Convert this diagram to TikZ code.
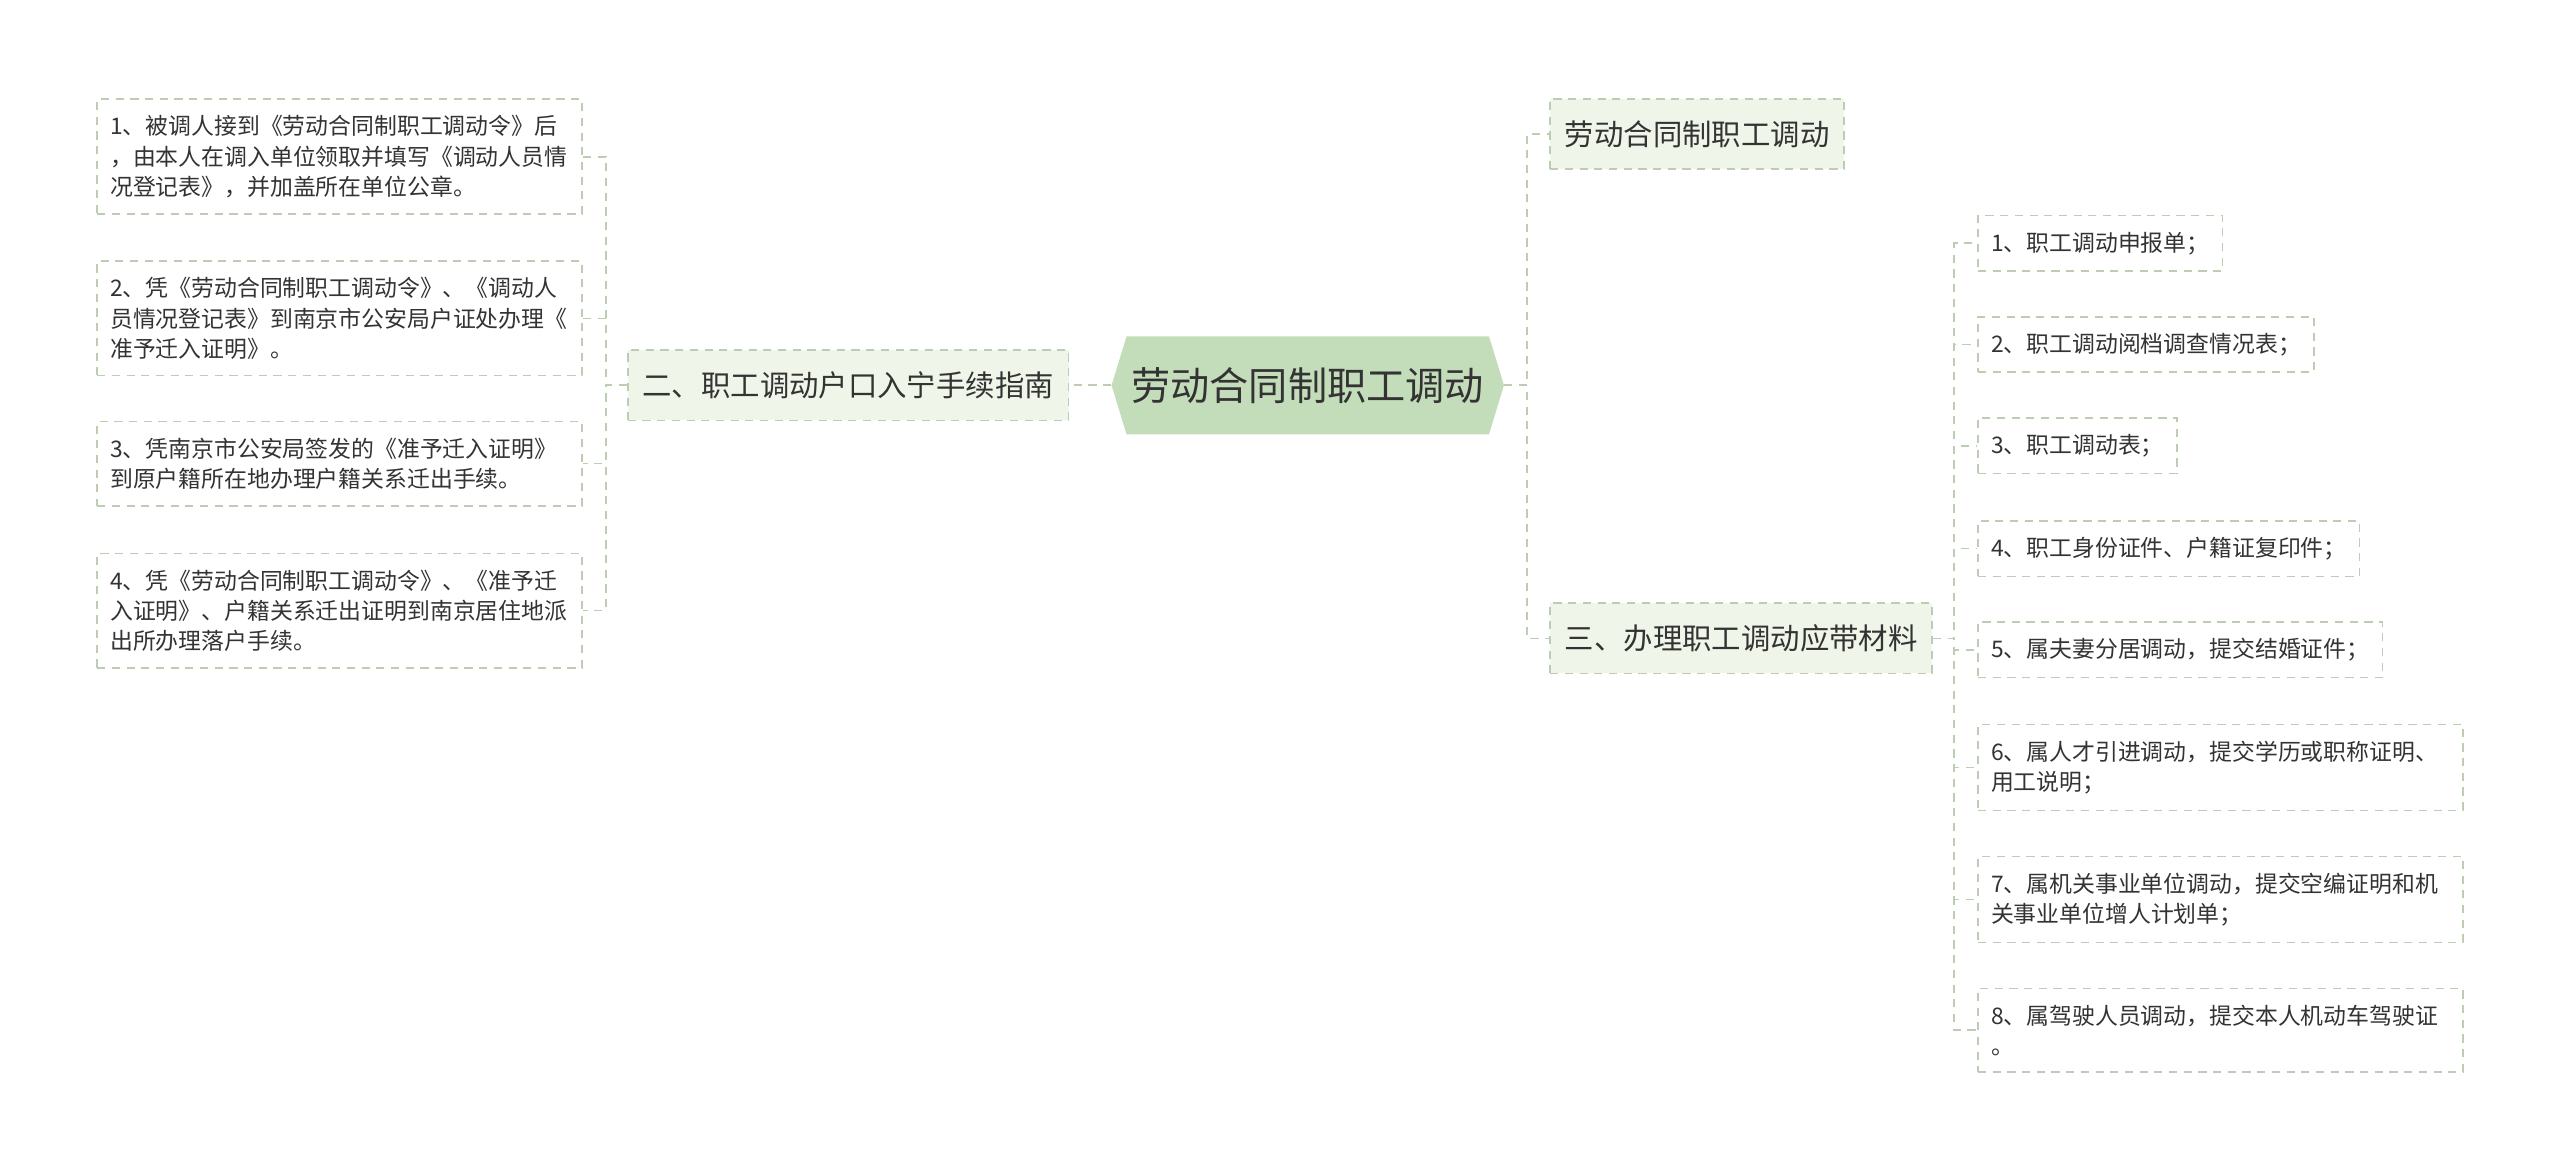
\documentclass[tikz,border=0pt]{standalone}
\usepackage{fontspec}
\newfontfamily\cjk{Noto Sans CJK SC}
\usetikzlibrary{shapes.symbols}
\definecolor{linegreen}{HTML}{BCCDB4}
\definecolor{rootfill}{HTML}{C3DCB9}
\definecolor{branchfill}{HTML}{EFF5E8}
\definecolor{inkgray}{HTML}{333333}
\tikzset{
  link/.style={draw=linegreen, line width=1pt, dash pattern=on 5pt off 4pt},
  rootbox/.style={signal, signal to=west and east, signal pointer angle=146,
    fill=rootfill, text=inkgray, font=\cjk\fontsize{24}{28}\selectfont,
    minimum height=60pt, inner xsep=3pt},
  branchbox/.style={link, fill=branchfill, text=inkgray,
    font=\cjk\fontsize{18}{22}\selectfont, minimum height=43pt, inner xsep=9pt},
  leafbox/.style={link, fill=white, text=inkgray,
    font=\cjk\fontsize{14}{18.5}\selectfont, align=left,
    inner xsep=8pt, inner ysep=10pt},
}
\begin{document}
\begin{tikzpicture}[x=1pt, y=-1pt]
\useasboundingbox (0,0) rectangle (1568,717);

\node[rootbox] (root) at (801,236) {劳动合同制职工调动};
\node[branchbox, anchor=east] (guide) at (655,236) {二、职工调动户口入宁手续指南};
\node[branchbox, anchor=west] (title) at (949,82) {劳动合同制职工调动};
\node[branchbox, anchor=west] (material) at (949,391) {三、办理职工调动应带材料};

\node[leafbox, anchor=east, text width=281pt] (g1) at (357,96)
  {1、被调人接到《劳动合同制职工调动令》后\\，由本人在调入单位领取并填写《调动人员情\\况登记表》，并加盖所在单位公章。};
\node[leafbox, anchor=east, text width=281pt] (g2) at (357,195)
  {2、凭《劳动合同制职工调动令》、《调动人\\员情况登记表》到南京市公安局户证处办理《\\准予迁入证明》。};
\node[leafbox, anchor=east, text width=281pt] (g3) at (357,284)
  {3、凭南京市公安局签发的《准予迁入证明》\\到原户籍所在地办理户籍关系迁出手续。};
\node[leafbox, anchor=east, text width=281pt] (g4) at (357,374)
  {4、凭《劳动合同制职工调动令》、《准予迁\\入证明》、户籍关系迁出证明到南京居住地派\\出所办理落户手续。};

\node[leafbox, anchor=west] (m1) at (1211,149) {1、职工调动申报单；};
\node[leafbox, anchor=west] (m2) at (1211,211) {2、职工调动阅档调查情况表；};
\node[leafbox, anchor=west] (m3) at (1211,273) {3、职工调动表；};
\node[leafbox, anchor=west] (m4) at (1211,336) {4、职工身份证件、户籍证复印件；};
\node[leafbox, anchor=west] (m5) at (1211,398) {5、属夫妻分居调动，提交结婚证件；};
\node[leafbox, anchor=west, text width=281pt] (m6) at (1211,470)
  {6、属人才引进调动，提交学历或职称证明、\\用工说明；};
\node[leafbox, anchor=west, text width=281pt] (m7) at (1211,551)
  {7、属机关事业单位调动，提交空编证明和机\\关事业单位增人计划单；};
\node[leafbox, anchor=west, text width=281pt] (m8) at (1211,631)
  {8、属驾驶人员调动，提交本人机动车驾驶证\\。};

\draw[link] (root.west) -- (guide.east);
\foreach \i in {title,material}
    \draw[link] (root.east) -- ++(14,0) |- (\i.west);
\foreach \i in {g1,g2,g3,g4}
    \draw[link] (guide.west) -- ++(-13,0) |- (\i.east);
\foreach \i in {m1,m2,m3,m4,m5,m6,m7,m8}
    \draw[link] (material.east) -- ++(13,0) |- (\i.west);
\end{tikzpicture}
\end{document}
